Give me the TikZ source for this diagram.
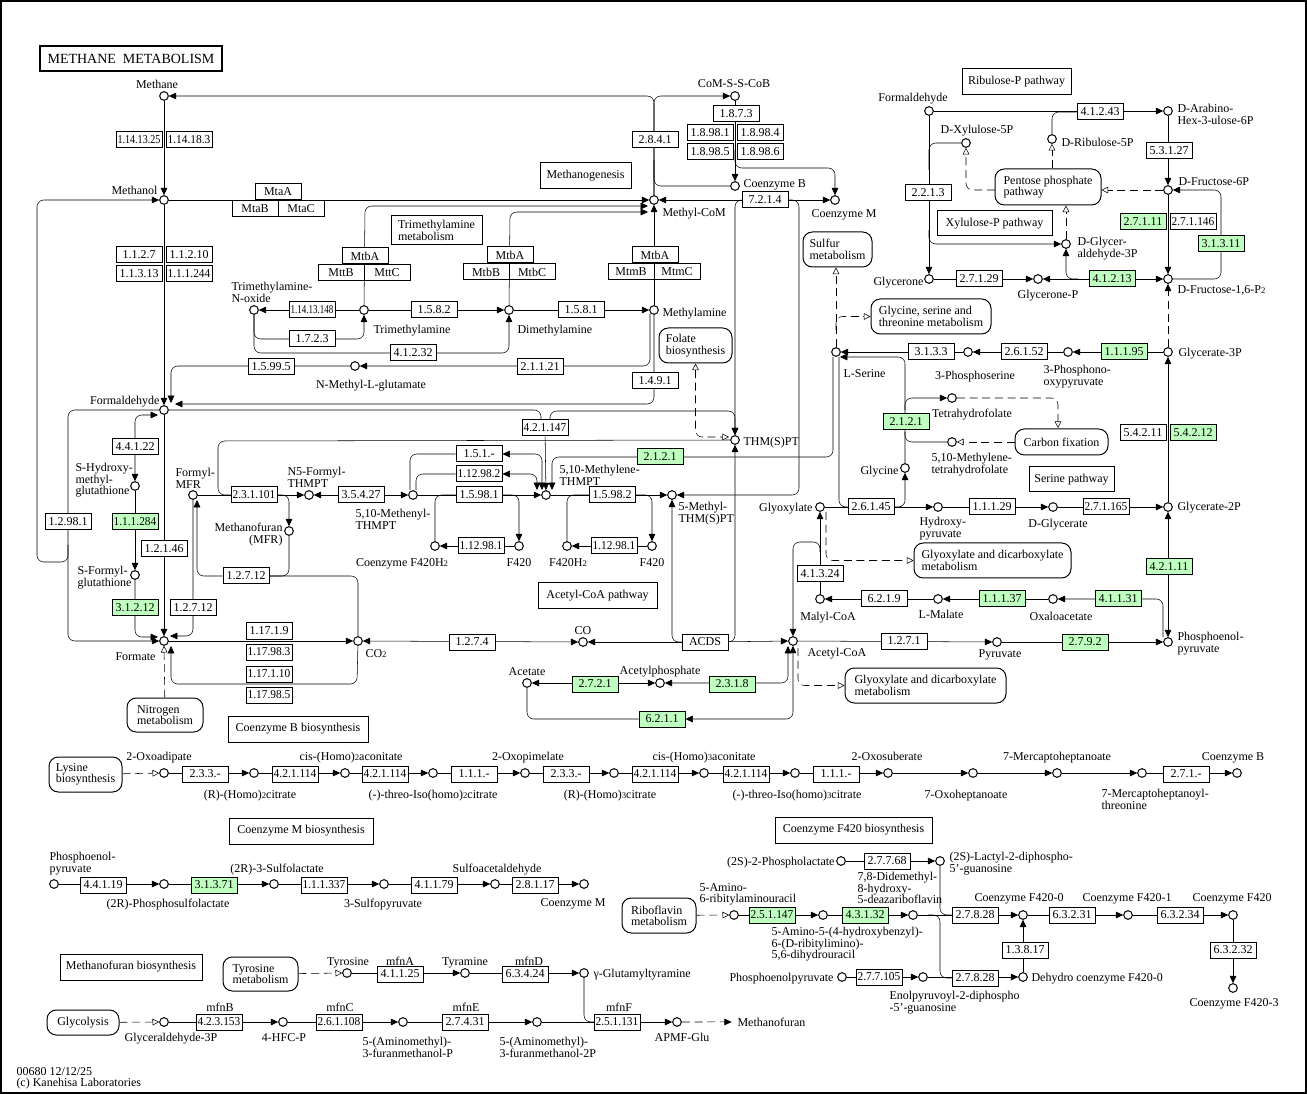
\documentclass[tikz,border=0pt]{standalone}
\usepackage{fontspec}
\setmainfont{Liberation Serif}
\usepackage{graphicx}
\usetikzlibrary{arrows.meta}
\pgfdeclarelayer{bg}
\pgfsetlayers{bg,main}
\definecolor{kgreen}{HTML}{BFFFBF}
\newlength\ezw
\newcommand\fz[1]{\settowidth\ezw{#1}\ifdim\ezw>32pt\pgfmathsetmacro\ezr{32pt/\ezw}\scalebox{\ezr}[1]{#1}\else#1\fi}
\newcommand\sbs[1]{{\fontsize{6.5}{6}\selectfont #1}}
\newcommand\cp[2]{\node[cpd] (#1) at (#2) {};}
\newcommand\enz[3]{\node[ez] (#1) at (#2) {\fz{#3}};}
\newcommand\enzg[3]{\node[ez,fill=kgreen] (#1) at (#2) {\fz{#3}};}
\newcounter{lbc}
\newcommand\lab[3]{\stepcounter{lbc}\node[#1] (lab\arabic{lbc}) at (#2) {#3};}
\newcommand\mapb[5]{\node[mapbox,minimum width=#3*0.75pt,minimum height=#4*0.75pt] (#1) at (#2) {#5};}
\newcommand\tb[5]{\node[tbox,minimum width=#3*0.75pt,minimum height=#4*0.75pt] (#1) at (#2) {#5};}
\begin{document}
\begin{tikzpicture}[x=0.75pt,y=-0.75pt,line width=0.75pt,
  >={Triangle[length=5.5pt,width=5pt]},
  cpd/.style={circle,draw,fill=white,minimum size=6.5pt,inner sep=0pt},
  ez/.style={draw,fill=white,minimum width=34.5pt,minimum height=12pt,inner sep=0pt,font=\fontsize{9}{9}\selectfont},
  lbl/.style={inner sep=0pt,font=\fontsize{9}{8.5}\selectfont,execute at begin node={\rule{0pt}{6.6pt}}},
  lw/.style={lbl,anchor=north west,align=left},
  le/.style={lbl,anchor=north east,align=right},
  lc/.style={lbl,anchor=north,align=center},
  mapbox/.style={draw,rounded corners=7pt,fill=white,align=left,inner sep=0pt,font=\fontsize{9}{8.5}\selectfont},
  tbox/.style={draw,fill=white,align=left,inner sep=0pt,font=\fontsize{9}{8.5}\selectfont},
  rc/.style={rounded corners=5pt},
  dsh/.style={dash pattern=on 6pt off 3.5pt},
  oarr/.style={-{Triangle[open,length=5pt,width=5pt]}},
  boarr/.style={{Triangle[open,length=5pt,width=5pt]}-{Triangle[open,length=5pt,width=5pt]}},
]
\useasboundingbox (0,0) rectangle (1307,1094);
\draw[line width=1.5pt] (1,1) rectangle (1306,1093);
\node[draw,fill=white,line width=1.5pt,minimum width=182*0.75pt,minimum height=25*0.75pt,inner sep=0pt,font=\fontsize{10.5}{10}\selectfont] (title) at (131,58.5) {METHANE\ \ METABOLISM};

% ---------- compounds ----------
\cp{methane}{164,96}\cp{methanol}{164,200}\cp{formald}{164,410}
\cp{shm}{135,486}\cp{sfg}{135,575}\cp{formate}{164,641}\cp{co2}{358,641}
\cp{formylmfr}{193,495}\cp{mfr}{289,531}\cp{n5f}{309,495}\cp{methenyl}{413,495}
\cp{methylene}{546,495}\cp{fha}{435,546}\cp{ffa}{519,546}\cp{fhb}{567,546}\cp{ffb}{652,546}
\cp{methylthm}{672,495}\cp{thm}{735,440}\cp{co}{583,642}\cp{acoa}{793,641}
\cp{acetate}{527,683}\cp{acp}{660,683}\cp{comssc}{735,96}\cp{cob}{735,186}\cp{com}{835,200}
\cp{mcom}{654,200}\cp{tma}{364,310}\cp{tmao}{254,310}\cp{dma}{509,310}\cp{mma}{654,310}
\cp{nmg}{355,366}\cp{lser}{836,352}\cp{pser}{968,352}\cp{ppyr}{1068,352}\cp{g3p}{1168,352}
\cp{g2p}{1168,507}\cp{dglyc}{1053,507}\cp{hpyr}{938,507}\cp{glyox}{820,507}\cp{glycine}{905,468}
\cp{thf}{952,398}\cp{mthf}{952,442}\cp{malylcoa}{820,599}\cp{lmal}{938,599}\cp{oaa}{1053,599}
\cp{pep}{1168,642}\cp{pyr}{997,642}\cp{formaldb}{929,111}\cp{dah}{1168,111}\cp{xu5p}{966,143}
\cp{ru5p}{1052,139}\cp{f6p}{1168,190}\cp{gap}{1066,244}\cp{glycerone}{929,279}\cp{dhap}{1038,279}
\cp{fbp}{1168,279}
\cp{oxoadip}{164,773}\cp{rhc2}{254,773}\cp{cha2}{345,773}\cp{tic2}{433,773}\cp{oxopim}{525,773}
\cp{rhc3}{614,773}\cp{cha3}{704,773}\cp{tic3}{795,773}\cp{oxosub}{888,773}\cp{oxohep}{973,773}
\cp{mhep}{1057,773}\cp{mhept}{1142,773}\cp{cobb}{1237,773}
\cp{pepb}{54,884}\cp{psl}{164,884}\cp{sl}{274,884}\cp{spyr}{384,884}\cp{sald}{495,884}\cp{comb}{584,884}
\cp{lactate}{841,861}\cp{lactyl}{940,861}\cp{arib}{734,915}\cp{ahb}{823,915}\cp{fo}{913,915}
\cp{fz0}{1023,915}\cp{fz1}{1128,915}\cp{fzz}{1233,915}\cp{fz3}{1233,988}\cp{dehydro}{1023,977}
\cp{pepc}{842,977}\cp{epg}{923,977}
\cp{tyr}{347,973}\cp{tyramine}{465,973}\cp{ggt}{584,973}\cp{gapb}{164,1022}\cp{hfcp}{283,1022}
\cp{amfp}{403,1022}\cp{amftp}{537,1022}\cp{apmf}{677,1022}

% ---------- enzymes ----------
\enz{z1}{139,140}{1.14.13.25}\enz{z2}{189,140}{1.14.18.3}
\enz{z3}{139,255}{1.1.2.7}\enz{z4}{189,255}{1.1.2.10}\enz{z5}{139,274}{1.1.3.13}\enz{z6}{189,274}{1.1.1.244}
\enz{zmtaA}{278,192}{MtaA}\enz{zmtaB}{255,209}{MtaB}\enz{zmtaC}{301,209}{MtaC}
\enz{zmtbA}{365,256}{MtbA}\enz{zmttB}{341,273}{MttB}\enz{zmttC}{387,273}{MttC}
\enz{zmtbAb}{510,255}{MtbA}\enz{zmtbB}{486,272}{MtbB}\enz{zmtbC}{532,272}{MtbC}
\enz{zmtbAc}{655,255}{MtbA}\enz{zmtmB}{631,272}{MtmB}\enz{zmtmC}{677,272}{MtmC}
\enz{ztmao}{312,310}{1.14.13.148}\enz{z723}{312,339}{1.7.2.3}\enz{z41232}{413,353}{4.1.2.32}
\enz{z1582}{434,310}{1.5.8.2}\enz{z1581}{581,310}{1.5.8.1}\enz{z21121}{540,367}{2.1.1.21}
\enz{z15995}{271,367}{1.5.99.5}\enz{z1491}{655,381}{1.4.9.1}\enz{z2841}{655,140}{2.8.4.1}
\enz{z1873}{736,114}{1.8.7.3}\enz{z18981}{710,133}{1.8.98.1}\enz{z18984}{760,133}{1.8.98.4}
\enz{z18985}{710,152}{1.8.98.5}\enz{z18986}{760,152}{1.8.98.6}\enz{z7214}{765,200}{7.2.1.4}
\enz{z421147}{545,428}{4.2.1.147}\enz{z151}{479,454}{1.5.1.-}\enz{z112982}{479,474}{1.12.98.2}
\enz{z15981}{479,495}{1.5.98.1}\enz{z112981a}{481,546}{1.12.98.1}\enz{z15982}{612,495}{1.5.98.2}
\enz{z112981b}{614,546}{1.12.98.1}\enzg{z2121a}{660,457}{2.1.2.1}
\enz{z231101}{254,495}{2.3.1.101}\enz{z35427}{361,495}{3.5.4.27}
\enz{z44122}{135,447}{4.4.1.22}\enzg{z111284}{135,522}{1.1.1.284}\enzg{z31212}{135,608}{3.1.2.12}
\enz{z12981}{68,522}{1.2.98.1}\enz{z12146}{164,549}{1.2.1.46}
\enz{z12712a}{193,608}{1.2.7.12}\enz{z12712b}{246,576}{1.2.7.12}
\enz{z17119}{269,631}{1.17.1.9}\enz{z171983}{269,652}{1.17.98.3}\enz{z171110}{269,674}{1.17.1.10}\enz{z171985}{269,695}{1.17.98.5}
\enz{z1274}{472,642}{1.2.7.4}\enz{acds}{705,642}{ACDS}
\enzg{z2721}{595,684}{2.7.2.1}\enzg{z2318}{732,684}{2.3.1.8}\enzg{z6211}{662,719}{6.2.1.1}
\enz{z41324}{820,574}{4.1.3.24}\enz{z6219}{884,599}{6.2.1.9}\enzg{z11137}{1002,599}{1.1.1.37}
\enzg{z41131}{1118,599}{4.1.1.31}\enz{z1271}{904,641}{1.2.7.1}\enzg{z2792}{1085,642}{2.7.9.2}
\enzg{z42111}{1169,567}{4.2.1.11}\enz{z271165}{1106,507}{2.7.1.165}\enz{z11129}{992,507}{1.1.1.29}
\enz{z26145}{871,507}{2.6.1.45}\enzg{z2121b}{906,422}{2.1.2.1}\enz{z3133}{931,352}{3.1.3.3}
\enz{z26152}{1024,352}{2.6.1.52}\enzg{z11195}{1124,352}{1.1.1.95}
\enz{z54211}{1143,433}{5.4.2.11}\enzg{z54212}{1193,433}{5.4.2.12}
\enz{z41243}{1100,112}{4.1.2.43}\enz{z53127}{1169,151}{5.3.1.27}\enz{z2213}{928,193}{2.2.1.3}
\enz{z27129}{979,279}{2.7.1.29}\enzg{z41213}{1112,279}{4.1.2.13}
\enzg{z27111}{1143,222}{2.7.1.11}\enz{z271146}{1193,222}{2.7.1.146}\enzg{z31311}{1221,244}{3.1.3.11}
\enz{zb1}{205,774}{2.3.3.-}\enz{zb2}{295,774}{4.2.1.114}\enz{zb3}{385,774}{4.2.1.114}
\enz{zb4}{474,774}{1.1.1.-}\enz{zb5}{566,774}{2.3.3.-}\enz{zb6}{655,774}{4.2.1.114}
\enz{zb7}{746,774}{4.2.1.114}\enz{zb8}{836,774}{1.1.1.-}\enz{zb9}{1186,774}{2.7.1.-}
\enz{zm1}{103,885}{4.4.1.19}\enzg{zm2}{214,885}{3.1.3.71}\enz{zm3}{324,885}{1.1.1.337}
\enz{zm4}{434,885}{4.1.1.79}\enz{zm5}{535,885}{2.8.1.17}
\enz{zf1}{887,861}{2.7.7.68}\enzg{zf2}{772,915}{2.5.1.147}\enzg{zf3}{865,915}{4.3.1.32}
\enz{zf4}{975,915}{2.7.8.28}\enz{zf5}{975,978}{2.7.8.28}\enz{zf6}{879,977}{2.7.7.105}
\enz{zf7}{1025,950}{1.3.8.17}\enz{zf8}{1072,915}{6.3.2.31}\enz{zf9}{1180,915}{6.3.2.34}
\enz{zf10}{1233,950}{6.3.2.32}
\enz{zt1}{400,974}{4.1.1.25}\enz{zt2}{525,974}{6.3.4.24}\enz{zt3}{219,1022}{4.2.3.153}
\enz{zt4}{339,1022}{2.6.1.108}\enz{zt5}{465,1022}{2.7.4.31}\enz{zt6}{617,1022}{2.5.1.131}

% ---------- map boxes ----------
\mapb{sulfur}{837.5,249.5}{69}{35}{Sulfur\\metabolism}
\mapb{folate}{695.5,345.5}{73}{35}{Folate\\biosynthesis}
\mapb{glyser}{931,316.5}{120}{35}{Glycine, serine and\\threonine metabolism}
\mapb{carbfix}{1061.5,442}{93}{26}{Carbon fixation}
\mapb{pentose}{1048,187}{106}{36}{Pentose phosphate\\pathway}
\mapb{glyoxa}{992.5,560.5}{157}{35}{Glyoxylate and dicarboxylate\\metabolism}
\mapb{glyoxb}{925.5,685.5}{161}{35}{Glyoxylate and dicarboxylate\\metabolism}
\mapb{nitrogen}{165,715}{76}{34}{Nitrogen\\metabolism}
\mapb{lysine}{85.5,774.5}{73}{35}{Lysine\\biosynthesis}
\mapb{riboflavin}{659,915.5}{74}{35}{Riboflavin\\metabolism}
\mapb{tyrosine}{260.5,974}{75}{34}{Tyrosine\\metabolism}
\mapb{glycolysis}{83,1022.5}{72}{25}{Glycolysis}
\tb{methanogenesis}{585.5,176}{91}{26}{Methanogenesis}
\tb{tmamet}{436.5,230.5}{91}{29}{Trimethylamine\\metabolism}
\tb{ribulose}{1016.5,82}{109}{26}{Ribulose-P pathway}
\tb{xylulose}{994.5,223.5}{115}{25}{Xylulose-P pathway}
\tb{serine}{1071.5,479.5}{85}{25}{Serine pathway}
\tb{acpath}{597.5,596}{119}{26}{Acetyl-CoA pathway}
\tb{cobbio}{298,729}{140}{26}{Coenzyme B biosynthesis}
\tb{combio}{301,831}{144}{26}{Coenzyme M biosynthesis}
\tb{fbio}{853.5,830}{157}{26}{Coenzyme F420 biosynthesis}
\tb{mfbio}{131,967}{142}{26}{Methanofuran biosynthesis}

% ---------- labels ----------
\lab{lc}{157,79}{Methane}\lab{le}{158,185}{Methanol}\lab{le}{160,395}{Formaldehyde}
\lab{le}{156,651}{Formate}\lab{lw}{365,648}{CO\sbs{2}}\lab{lc}{583,625}{CO}
\lab{lc}{527,666}{Acetate}\lab{lc}{660,665}{Acetylphosphate}\lab{lw}{807,647}{Acetyl-CoA}
\lab{lc}{828,611}{Malyl-CoA}\lab{le}{813,502}{Glyoxylate}\lab{lw}{843,368}{L-Serine}
\lab{le}{899,465}{Glycine}\lab{lc}{972,408}{Tetrahydrofolate}
\lab{lw}{931,453}{5,10-Methylene-\\tetrahydrofolate}\lab{lw}{919,517}{Hydroxy-\\pyruvate}
\lab{lc}{1058,518}{D-Glycerate}\lab{lw}{1177,501}{Glycerate-2P}\lab{lw}{1178,347}{Glycerate-3P}
\lab{lc}{975,370}{3-Phosphoserine}\lab{lw}{1043,365}{3-Phosphono-\\oxypyruvate}
\lab{lc}{941,609}{L-Malate}\lab{lc}{1061,611}{Oxaloacetate}\lab{lc}{1000,648}{Pyruvate}
\lab{lw}{1177,632}{Phosphoenol-\\pyruvate}\lab{lc}{913,92}{Formaldehyde}
\lab{lw}{1177,104}{D-Arabino-\\Hex-3-ulose-6P}\lab{lc}{977,124}{D-Xylulose-5P}
\lab{lw}{1061,137}{D-Ribulose-5P}\lab{lw}{1178,176}{D-Fructose-6P}
\lab{lw}{1077,237}{D-Glycer-\\aldehyde-3P}\lab{le}{924,276}{Glycerone}\lab{lc}{1048,289}{Glycerone-P}
\lab{lw}{1177,284}{D-Fructose-1,6-P\sbs{2}}
\lab{lw}{231,282}{Trimethylamine-\\N-oxide}\lab{lw}{373,324}{Trimethylamine}
\lab{lw}{517,324}{Dimethylamine}\lab{lw}{662,307}{Methylamine}\lab{lw}{662,207}{Methyl-CoM}
\lab{lc}{734,78}{CoM-S-S-CoB}\lab{lw}{743,178}{Coenzyme B}\lab{lw}{811,208}{Coenzyme M}
\lab{lc}{371,379}{N-Methyl-L-glutamate}\lab{lw}{743,436}{THM(S)PT}
\lab{lw}{559,465}{5,10-Methylene-\\THMPT}\lab{lw}{678,502}{5-Methyl-\\THM(S)PT}
\lab{lw}{355,509}{5,10-Methenyl-\\THMPT}\lab{lw}{287,467}{N5-Formyl-\\THMPT}
\lab{lw}{175,468}{Formyl-\\MFR}\lab{le}{283,523}{Methanofuran\\(MFR)}
\lab{lc}{402,557}{Coenzyme F420H\sbs{2}}\lab{lc}{519,557}{F420}\lab{lc}{568,557}{F420H\sbs{2}}
\lab{lc}{652,557}{F420}
\lab{lw}{75,463}{S-Hydroxy-\\methyl-\\glutathione}\lab{lw}{77,566}{S-Formyl-\\glutathione}
\lab{lc}{159,751}{2-Oxoadipate}\lab{lc}{250,789}{(R)-(Homo)\sbs{2}citrate}
\lab{lc}{351,751}{cis-(Homo)\sbs{2}aconitate}\lab{lc}{433,789}{(-)-threo-Iso(homo)\sbs{2}citrate}
\lab{lc}{528,751}{2-Oxopimelate}\lab{lc}{610,789}{(R)-(Homo)\sbs{3}citrate}
\lab{lc}{704,751}{cis-(Homo)\sbs{3}aconitate}\lab{lc}{797,789}{(-)-threo-Iso(homo)\sbs{3}citrate}
\lab{lc}{887,751}{2-Oxosuberate}\lab{lc}{966,789}{7-Oxoheptanoate}
\lab{lc}{1057,751}{7-Mercaptoheptanoate}\lab{lw}{1101,789}{7-Mercaptoheptanoyl-\\threonine}
\lab{lc}{1233,751}{Coenzyme B}
\lab{lw}{49,852}{Phosphoenol-\\pyruvate}\lab{lc}{168,898}{(2R)-Phosphosulfolactate}
\lab{lc}{277,863}{(2R)-3-Sulfolactate}\lab{lc}{383,898}{3-Sulfopyruvate}
\lab{lc}{497,863}{Sulfoacetaldehyde}\lab{lc}{573,897}{Coenzyme M}
\lab{le}{835,856}{(2S)-2-Phospholactate}\lab{lw}{949,852}{(2S)-Lactyl-2-diphospho-\\5'-guanosine}
\lab{lw}{699,883}{5-Amino-\\6-ribitylaminouracil}
\lab{lw}{771,927}{5-Amino-5-(4-hydroxybenzyl)-\\6-(D-ribitylimino)-\\5,6-dihydrouracil}
\lab{lw}{857,872}{7,8-Didemethyl-\\8-hydroxy-\\5-deazariboflavin}
\lab{lc}{1019,892}{Coenzyme F420-0}\lab{lc}{1127,892}{Coenzyme F420-1}\lab{lc}{1232,892}{Coenzyme F420}
\lab{lw}{1031,972}{Dehydro coenzyme F420-0}\lab{le}{834,972}{Phosphoenolpyruvate}
\lab{lw}{889,991}{Enolpyruvoyl-2-diphospho\\-5'-guanosine}\lab{lc}{1234,997}{Coenzyme F420-3}
\lab{lc}{348,956}{Tyrosine}\lab{lc}{400,956}{mfnA}\lab{lc}{465,956}{Tyramine}\lab{lc}{529,956}{mfnD}
\lab{lw}{593,968}{γ-Glutamyltyramine}
\lab{lc}{220,1002}{mfnB}\lab{lc}{340,1002}{mfnC}\lab{lc}{466,1002}{mfnE}\lab{lc}{619,1002}{mfnF}
\lab{lc}{171,1032}{Glyceraldehyde-3P}\lab{lc}{284,1032}{4-HFC-P}
\lab{lw}{362,1037}{5-(Aminomethyl)-\\3-furanmethanol-P}\lab{lw}{499,1037}{5-(Aminomethyl)-\\3-furanmethanol-2P}
\lab{lc}{682,1032}{APMF-Glu}
\node[lw] (mfuran) at (737,1017) {Methanofuran};
\lab{lw}{16,1067}{00680 12/12/25\\(c) Kanehisa Laboratories}

% ---------- connectors ----------
\begin{pgfonlayer}{bg}
\draw[->] (methane) -- (methanol);
\draw[->] (methanol) -- (formald);
\draw[->,rc] (mcom) |- (methane);
\draw[->,rc] (mcom) |- (comssc);
\draw[rc] (654,160) |- (cob);
\draw[->] (comssc) -- (cob);
\draw[->,rc] (735,150) |- (835,168) -- (com);
\draw[->] (methanol) -- (mcom);
\draw[->,rc] (tma) -- (365,206) -- (648,206);
\draw[->,rc] (dma) -- (510,212) -- (648,212);
\draw[->] (mma) -- (mcom);
\draw[<->] (mcom) -- (com);
\draw[->,rc] (745,200) -| (thm);
\draw[->,rc] (786,200) -| (799,495) -- (methylthm);
\draw[->] (tma) -- (tmao);
\draw[->,rc] (tmao) |- (z723.center) -| (tma);
\draw[->,rc] (tmao) |- (z41232.center) -| (dma);
\draw[->] (tma) -- (dma);
\draw[->] (dma) -- (mma);
\draw[->,rc] (650,314) |- (nmg);
\draw[->,rc] (nmg) -| (171,403);
\draw[->,rc] (mma) |- (175,404);
\draw[rc] (formald) -| (541,420);
\draw[->,rc] (550,420) |- (735,411) -- (thm);
\draw[->] (z421147) -- (methylene);
\draw[rc] (thm) -- (218,441) -- (218,495) -- (z231101);
\draw[boarr,dsh,rc] (folate) -- (695.5,437) -- (729,437);
\draw[->] (formylmfr) -- (n5f);
\draw[->,rc] (277,495) -| (mfr);
\draw[<->] (n5f) -- (methenyl);
\draw[<->,rc] (410,490) |- (z151) -| (542,490);
\draw[<->,rc] (416,490) |- (z112982) -| (537,490);
\draw[->] (methenyl) -- (methylene);
\draw[rc] (fha) |- (z15981);
\draw[->,rc] (z15981) -| (ffa);
\draw[->] (ffa) -- (fha);
\draw[->] (methylene) -- (methylthm);
\draw[rc] (fhb) |- (z15982);
\draw[->,rc] (z15982) -| (ffb);
\draw[->] (ffb) -- (fhb);
\draw[->,rc] (833,357) |- (552,457) -- (552,490);
\draw[rc] (839,357) |- (z26145);
\draw[->] (glyox) -- (hpyr);
\draw[->,rc] (z26145) -| (glycine);
\draw[->] (hpyr) -- (dglyc);
\draw[->] (dglyc) -- (g2p);
\draw[->] (g2p) -- (g3p);
\draw[<->] (g2p) -- (pep);
\draw[->] (g3p) -- (ppyr);
\draw[->] (ppyr) -- (pser);
\draw[->] (pser) -- (lser);
\draw[->,rc] (glycine) -- (905,357) -- (840,357);
\draw[->,rc] (905,410) |- (thf);
\draw[rc] (905,432) |- (mthf);
\draw[dsh,oarr,rc] (thf) -| (1058,428);
\draw[dsh,oarr] (carbfix) -- (mthf);
\draw[->,rc] (1163,637) |- (oaa);
\draw[->] (oaa) -- (lmal);
\draw[->] (lmal) -- (malylcoa);
\draw[->] (malylcoa) -- (glyox);
\draw[->,rc] (820,552) |- (793,542) -- (acoa);
\draw[dsh,oarr,rc] (826,512) |- (glyoxa);
\draw[->] (acoa) -- (pyr);
\draw[->] (pyr) -- (pep);
\draw[->] (acds) -- (acoa);
\draw[->] (acds) -- (co);
\draw[->,rc] (acds) -| (methylthm);
\draw[->,rc] (acds) -| (thm);
\draw[<->] (co2) -- (co);
\draw[->] (formate) -- (co2);
\draw[->,rc] (co2) -- (357,684) -- (171,684) -- (171,646);
\draw[dsh,oarr] (nitrogen) -- (formate);
\draw[->,rc] (formylmfr) |- (170,636);
\draw[->,rc] (co2) |- (z12712b) -| (197,500);
\draw[rc] (mfr) |- (z12712b);
\draw[->] (formald) -- (formate);
\draw[<->,rc] (158,415) -| (shm);
\draw[->] (shm) -- (sfg);
\draw[->,rc] (sfg) |- (158,637);
\draw[->,rc] (formald) -| (68,641) -- (formate);
\draw[->,rc] (68,545) |- (37,562) |- (methanol);
\draw[dsh,oarr] (lser) -- (lser |- sulfur.south);
\draw[dsh,oarr,rc] (836,330) |- (glyser);
\draw[->] (formaldb) -- (dah);
\draw[rc] (ru5p) |- (z41243);
\draw[->] (dah) -- (f6p);
\draw[->] (f6p) -- (fbp);
\draw[->,rc] (fbp) -| (1221,190) -- (f6p);
\draw[->] (formaldb) -- (glycerone);
\draw[rc] (xu5p) -| (929,170);
\draw[->,rc] (929,230) |- (gap);
\draw[->] (glycerone) -- (dhap);
\draw[<->] (dhap) -- (fbp);
\draw[->,rc] (1078,279) -| (gap);
\draw[dsh,oarr] (f6p) -- (pentose.east |- f6p);
\draw[dsh,oarr] (pentose.north -| ru5p) -- (ru5p);
\draw[dsh,oarr,rc] (995,190) -| (xu5p);
\draw[dsh,oarr] (gap) -- (gap |- pentose.south);
\draw[dsh,->] (g3p) -- (fbp);
\draw[<->] (acetate) -- (acp);
\draw[<->,rc] (acp) -| (788,646);
\draw[<->,rc] (acetate) |- (z6211) -| (acoa);
\draw[dsh,oarr,rc] (798,648) |- (glyoxb);
% bottom
\draw[dsh,oarr] (lysine) -- (oxoadip);
\foreach \a/\b in {oxoadip/rhc2,rhc2/cha2,cha2/tic2,tic2/oxopim,oxopim/rhc3,rhc3/cha3,cha3/tic3,tic3/oxosub,oxosub/oxohep,oxohep/mhep,mhep/mhept,mhept/cobb,pepb/psl,psl/sl,sl/spyr,spyr/sald,sald/comb,lactate/lactyl,arib/ahb,ahb/fo,fo/fz0,pepc/epg,epg/dehydro,dehydro/fz0,fz0/fz1,fz1/fzz,fzz/fz3,tyr/tyramine,tyramine/ggt,gapb/hfcp,hfcp/amfp,amfp/amftp,amftp/apmf}
  \draw[->] (\a) -- (\b);
\draw[rc] (lactyl) |- (zf4);
\draw[rc] (928,915) -| (940,978) -- (zf5);
\draw[dsh,oarr] (riboflavin) -- (arib);
\draw[dsh,oarr] (tyrosine) -- (tyr);
\draw[rc] (ggt) |- (zt6);
\draw[dsh,oarr] (glycolysis) -- (gapb);
\draw[dsh,->] (apmf) -- ([xshift=-4pt]mfuran.west);
\end{pgfonlayer}
\end{tikzpicture}
\end{document}
